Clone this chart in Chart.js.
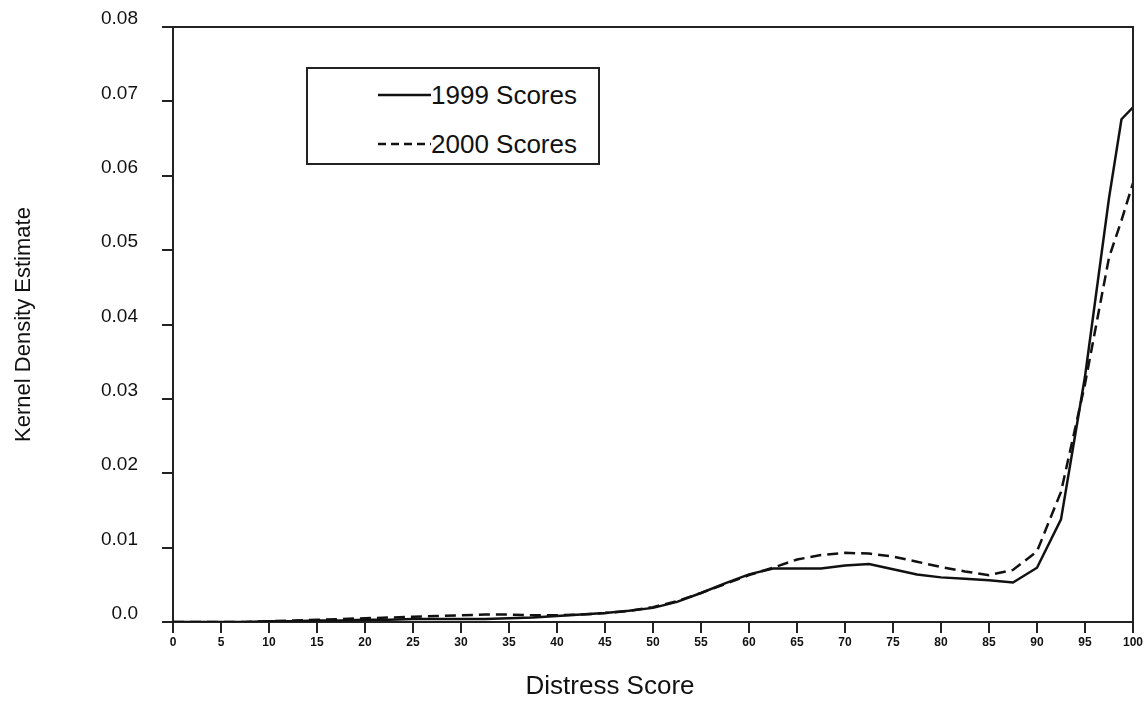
<!DOCTYPE html>
<html>
<head>
<meta charset="utf-8">
<script src="https://cdn.jsdelivr.net/npm/chart.js@4"></script>
<style>
  body { margin: 0; background: #fff; }
  #wrap { position: relative; width: 1148px; height: 704px; }
  #legend {
    position: absolute; left: 306px; top: 67px; width: 290px; height: 94px;
    border: 2px solid #222; background: #fff;
    font-family: "Liberation Sans", Arial, sans-serif; font-size: 26px; color: #111;
  }
  .row { position: absolute; left: 70px; height: 30px; display: flex; align-items: center; }
</style>
</head>
<body>
<div id="wrap">
  <canvas id="chart"></canvas>
  <div id="legend"></div>
</div>
<script>
// distress score positions (x) and density estimates
const scores = [0, 2.5, 5, 7.5, 10, 12.5, 15, 17.5, 20, 22.5, 25, 27.5, 30, 32.5, 35, 37.5, 40, 42.5, 45, 47.5,
  50, 52.5, 55, 57.5, 60, 62.5, 65, 67.5, 70, 72.5, 75, 77.5, 80, 82.5, 85, 87.5, 90, 92.5, 95, 97.5, 98.8, 100];
const scores1999 = [0, 0, 0, 0, 0.0001, 0.0001, 0.0002, 0.0002, 0.0003, 0.0003, 0.0004, 0.0004, 0.0004, 0.0004, 0.0005, 0.0006, 0.0008, 0.001, 0.0012, 0.0015,
  0.0019, 0.0027, 0.0039, 0.0052, 0.0064, 0.0072, 0.0072, 0.0072, 0.0076, 0.0078, 0.0071, 0.0064, 0.006, 0.0058, 0.0056, 0.0053, 0.0073, 0.0138, 0.033, 0.057, 0.0676, 0.0692];
const scores2000 = [0, 0, 0, 0, 0.0001, 0.0002, 0.0003, 0.0004, 0.0005, 0.0006, 0.0007, 0.0008, 0.0009, 0.001, 0.001, 0.0009, 0.0009, 0.001, 0.0012, 0.0015,
  0.002, 0.0028, 0.0039, 0.0051, 0.0063, 0.0073, 0.0084, 0.009, 0.0093, 0.0092, 0.0088, 0.0081, 0.0074, 0.0068, 0.0063, 0.007, 0.0095, 0.0175, 0.032, 0.049, 0.054, 0.059];
const seriesNames = ['1999 Scores', '2000 Scores'];
const dashes = [[], [11, 6]];

const font = '"Liberation Sans", Arial, sans-serif';

// top/right frame lines and the x axis title (sits left of centre in the original)
const frame = {
  id: 'frame',
  afterDraw(chart) {
    const { ctx, chartArea: a } = chart;
    ctx.save();
    ctx.strokeStyle = '#222';
    ctx.lineWidth = 2;
    ctx.beginPath();
    ctx.moveTo(a.left - 11, a.top);
    ctx.lineTo(a.right, a.top);
    ctx.lineTo(a.right, a.bottom + 11);
    ctx.stroke();
    ctx.fillStyle = '#111';
    ctx.font = '26px ' + font;
    ctx.textAlign = 'center';
    ctx.textBaseline = 'middle';
    ctx.fillText('Distress Score', 610, 687);
    ctx.restore();
  }
};

const toPoints = (vals) => vals.map((v, i) => ({ x: scores[i], y: v }));

new Chart(document.getElementById('chart'), {
  type: 'line',
  data: {
    datasets: [
      { label: seriesNames[0], data: toPoints(scores1999), borderColor: '#111', borderWidth: 2.5, borderDash: dashes[0], pointRadius: 0, tension: 0 },
      { label: seriesNames[1], data: toPoints(scores2000), borderColor: '#111', borderWidth: 2.5, borderDash: dashes[1], pointRadius: 0, tension: 0 }
    ]
  },
  options: {
    responsive: true,
    maintainAspectRatio: false,
    animation: false,
    layout: { padding: { top: 27, right: 15, left: 0, bottom: 0 } },
    plugins: { legend: { display: false }, tooltip: { enabled: false } },
    scales: {
      x: {
        type: 'linear', min: 0, max: 100,
        afterFit: (s) => { s.height = 82; s.paddingLeft = 0; s.paddingRight = 0; },
        border: { color: '#222', width: 2 },
        grid: { drawOnChartArea: false, tickLength: 11, color: '#222', lineWidth: 2 },
        ticks: { stepSize: 5, autoSkip: false, maxRotation: 0, padding: 2, color: '#111', font: { family: font, size: 12, weight: 'bold' } }
      },
      y: {
        min: 0, max: 0.08,
        afterFit: (s) => { s.width = 173; s.paddingTop = 0; s.paddingBottom = 0; },
        border: { color: '#222', width: 2 },
        grid: { drawOnChartArea: false, tickLength: 11, color: '#222', lineWidth: 2 },
        ticks: {
          stepSize: 0.01, padding: 24, labelOffset: -8, color: '#111', font: { family: font, size: 19 },
          callback: (v) => v === 0 ? '0.0' : v.toFixed(2)
        },
        title: { display: true, text: 'Kernel Density Estimate', color: '#111', font: { family: font, size: 22 }, padding: { top: 11, bottom: 0 } }
      }
    }
  },
  plugins: [frame]
});

// legend box drawn as html, one row per series
const legend = document.getElementById('legend');
seriesNames.forEach((name, i) => {
  const row = document.createElement('div');
  row.className = 'row';
  row.style.top = (11 + i * 49) + 'px';
  row.innerHTML = '<svg width="53" height="10"><line x1="0" y1="5" x2="53" y2="5" stroke="#111" stroke-width="2.5" stroke-dasharray="' +
    (dashes[i].length ? '8,5' : 'none') + '"/></svg><span>' + name + '</span>';
  legend.appendChild(row);
});
</script>
</body>
</html>
